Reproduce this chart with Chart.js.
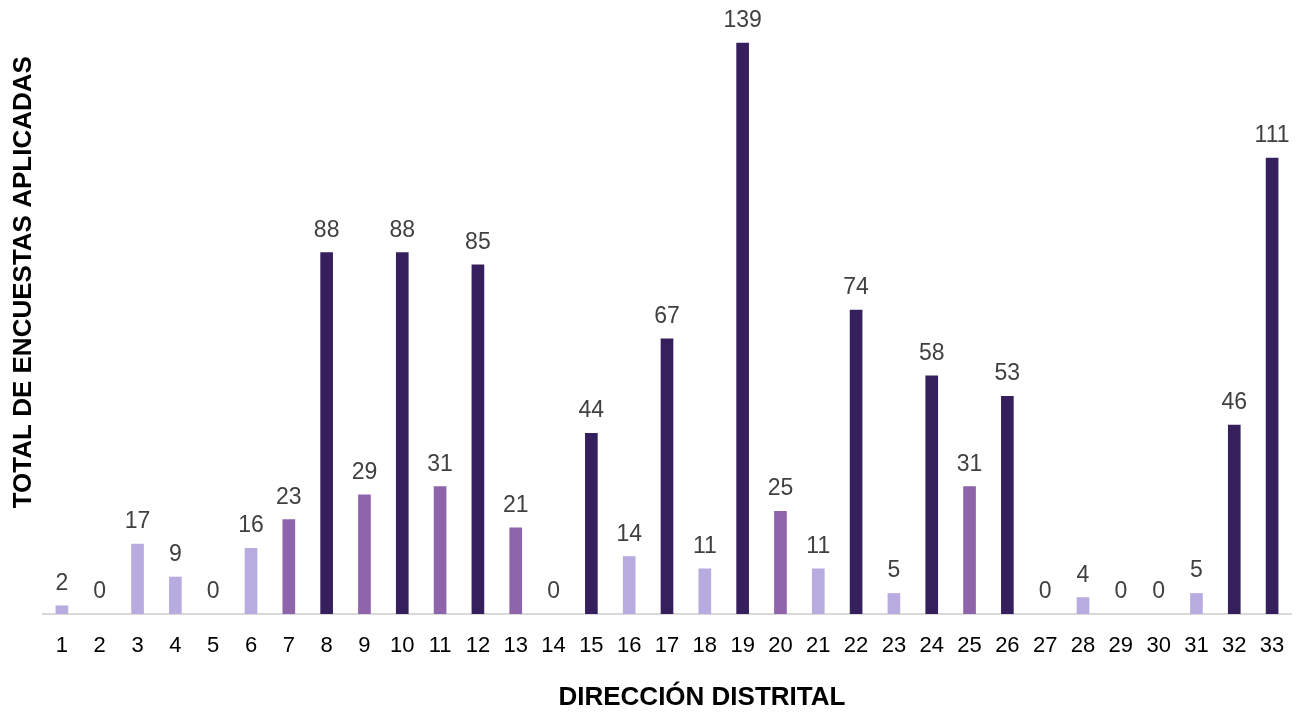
<!DOCTYPE html>
<html>
<head>
<meta charset="utf-8">
<script src="https://cdn.jsdelivr.net/npm/chart.js@4"></script>
<style>
  html, body { margin: 0; padding: 0; background: #fff; }
  #wrap { width: 1299px; height: 714px; position: relative; }
</style>
</head>
<body>
<div id="wrap"><canvas id="chart"></canvas></div>
<script>
// Encuestas aplicadas por dirección distrital

const distritos = ["1","2","3","4","5","6","7","8","9","10","11","12","13","14","15","16","17",
  "18","19","20","21","22","23","24","25","26","27","28","29","30","31","32","33"];
const encuestas = [2, 0, 17, 9, 0, 16, 23, 88, 29, 88, 31, 85, 21, 0, 44, 14, 67,
  11, 139, 25, 11, 74, 5, 58, 31, 53, 0, 4, 0, 0, 5, 46, 111];

const yTitle = "TOTAL DE ENCUESTAS APLICADAS";
const xTitle = "DIRECCIÓN DISTRITAL";

const FONT = "'Liberation Sans', Arial, sans-serif";

// color según rango del valor
function barColor(v) {
  if (v === 0) return "rgba(0,0,0,0)";
  if (v < 20) return "#b8abdf";
  if (v < 40) return "#8e64aa";
  return "#35205d";
}

// etiquetas de valor encima de cada barra
const valueLabels = {
  id: "valueLabels",
  afterDatasetsDraw(chart) {
    const ctx = chart.ctx;
    const meta = chart.getDatasetMeta(0);
    ctx.save();
    ctx.font = `23px ${FONT}`;
    ctx.fillStyle = "#404040";
    ctx.textAlign = "center";
    ctx.textBaseline = "alphabetic";
    meta.data.forEach((bar, i) => {
      ctx.fillText(String(encuestas[i]), bar.x, bar.y - 16);
    });
    ctx.restore();
  }
};

// títulos de los ejes
const axisTitles = {
  id: "axisTitles",
  afterDraw(chart) {
    const ctx = chart.ctx;
    const area = chart.chartArea;
    ctx.save();
    ctx.font = `bold 26px ${FONT}`;
    ctx.fillStyle = "#000";
    ctx.textAlign = "center";
    ctx.textBaseline = "middle";
    ctx.fillText(xTitle, area.left + (area.right - area.left) * 0.528, 698);
    ctx.translate(24, area.top + (area.bottom - area.top) * 0.423);
    ctx.rotate(-Math.PI / 2);
    ctx.fillText(yTitle, 0, 0);
    ctx.restore();
  }
};

new Chart(document.getElementById("chart"), {
  type: "bar",
  data: {
    labels: distritos,
    datasets: [{
      data: encuestas,
      backgroundColor: encuestas.map(barColor),
      barThickness: 12,
      borderWidth: 0
    }]
  },
  options: {
    responsive: true,
    maintainAspectRatio: false,
    animation: false,
    layout: { padding: { top: 39, left: 43, right: 8, bottom: 0 } },
    plugins: {
      legend: { display: false },
      tooltip: { enabled: false }
    },
    scales: {
      x: {
        grid: { display: false },
        border: { display: true, color: "#d9d9d9", width: 2 },
        ticks: { color: "#000", font: { family: FONT, size: 22 }, padding: 11, maxRotation: 0, autoSkip: false },
        afterFit(scale) { scale.height = 100; }
      },
      y: {
        display: false,
        min: 0,
        max: 140
      }
    }
  },
  plugins: [valueLabels, axisTitles]
});
</script>
</body>
</html>
